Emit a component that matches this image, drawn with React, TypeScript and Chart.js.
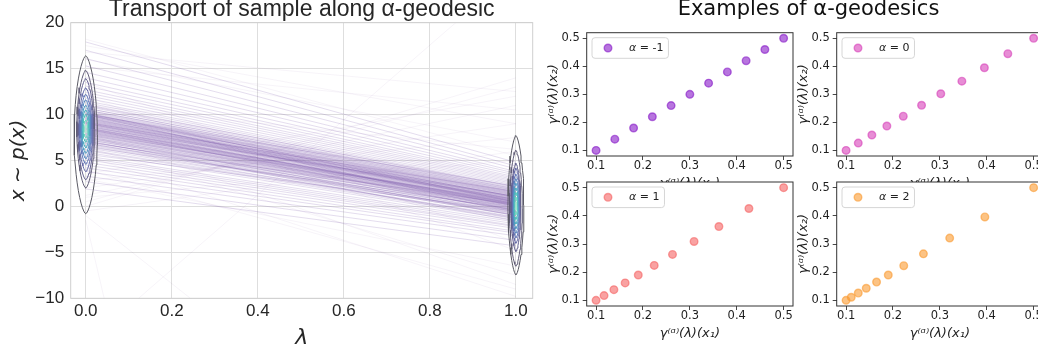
import React, { useEffect, useRef } from "react";
import { Chart, registerables } from "chart.js";

Chart.register(...registerables);

// ---------------- Left panel: transport of sample ----------------
const lambdaTicks = [0, 0.2, 0.4, 0.6, 0.8, 1.0];
const sampleTicks = [-10, -5, 0, 5, 10, 15, 20];

// sample value at lambda = 0 and where it is transported at lambda = 1
const bundleStart = [
  1.9, 2.7, 3.3, 3.8, 4.2, 4.5, 4.8, 5.1, 5.3, 5.5,
  5.7, 5.9, 6.1, 6.2, 6.4, 6.5, 6.7, 6.8, 6.9, 7.1,
  7.2, 7.3, 7.4, 7.5, 7.6, 7.7, 7.8, 7.9, 8.0, 8.1,
  8.2, 8.3, 8.4, 8.5, 8.6, 8.7, 8.8, 8.9, 9.0, 9.1,
  9.2, 9.3, 9.4, 9.5, 9.6, 9.7, 9.8, 10.0, 10.1, 10.2,
  10.4, 10.5, 10.7, 10.9, 11.1, 11.3, 11.5, 11.8, 12.1, 12.4,
  12.7, 13.1, 13.5, 14.0, 14.6, 15.3, 16.1, 17.0, 17.9, 9.95,
  10.0, 10.05,
];
const bundleEnd = [
  -4.3, -3.7, -3.2, -2.9, -2.7, -2.4, -2.2, -2.1, -1.9, -1.7,
  -0.55, -1.5, -1.35, -1.2, -1.15, -0.3, -0.95, -0.8, -0.75, -0.6,
  -1.6, -0.45, -0.4, -1.0, -0.25, -0.15, -0.1, 0.0, 0.5, 0.1,
  0.15, 0.2, 0.25, 0.3, 0.35, 1.1, 0.05, 0.55, 0.6, 0.7,
  0.75, 0.8, 0.9, 0.95, 1.05, 0.45, 1.2, 1.3, 1.4, 1.5,
  1.6, 1.7, 1.8, 1.9, 2.0, 2.15, 2.3, 2.45, 2.6, 2.75,
  2.9, 3.05, 3.2, 3.4, 3.6, 3.8, 4.1, 4.4, 4.8, 1.0,
  -0.5, 2.2,
];
// dense core of the bundle
const coreStart = [
  6.6, 6.9, 7.1, 7.3, 7.5, 7.6, 7.8, 7.9, 8.0, 8.1,
  8.2, 8.3, 8.4, 8.5, 8.55, 8.6, 8.7, 8.8, 8.9, 9.0,
  9.05, 9.1, 9.2, 9.3, 9.4, 9.5, 9.6, 9.7, 9.8, 9.9,
  10.0, 10.1, 10.3, 10.5, 10.7, 11.0, 7.0, 8.45, 9.15, 10.2,
];
const coreEnd = [
  -1.3, -1.0, -0.9, -0.7, -0.5, -0.4, -0.3, -0.2, -0.1, 0.0,
  0.05, 0.1, 0.2, 0.25, 0.3, 0.35, 0.4, 0.45, 0.5, 0.6,
  0.65, 0.7, 0.75, 0.8, 0.9, 1.0, 1.05, 1.1, 1.2, 1.3,
  1.4, 1.5, 1.6, 1.75, 1.9, 2.1, 0.2, -0.6, 1.6, 0.5,
];
const strayStart = [
  18.2, 17.5, 16.8, 16.0, 15.2, 0.5, 1.2, 2.0, 2.8, 3.5,
  -0.5, 0.0, -15.0, -1.5, -1.0, 4.0, 5.5, 6.5, 3.0, 12.0,
  13.5, 8.0, 11.0, 1.0,
];
const strayEnd = [
  5.5, 9.0, 12.5, 7.0, 10.5, 13.0, 11.0, 9.0, 7.5, 12.0,
  6.0, 14.0, 25.7, -200.0, -38.0, -9.0, -9.8, -7.5, -6.5, -4.8,
  -3.9, -8.5, 6.2, 5.0,
];

// KDE contour levels (outer -> inner) at lambda = 0 and lambda = 1
const kdeStartTop = [16.4, 14.8, 13.9, 12.9, 12.2, 11.6, 11.0, 10.5, 10.0, 9.4, 8.8];
const kdeStartBottom = [-0.8, 2.0, 2.9, 3.8, 4.6, 5.2, 5.8, 6.4, 7.0, 7.5, 8.0];
const kdeStartHalfWidth = [0.027, 0.021, 0.0186, 0.0163, 0.014, 0.012, 0.0105, 0.0088, 0.007, 0.0051, 0.003];
const kdeEndTop = [7.7, 6.1, 4.7, 4.15, 3.5, 3.0, 2.5, 2.0, 1.5, 1.0, 0.5];
const kdeEndBottom = [-7.45, -6.5, -4.9, -4.0, -3.4, -2.9, -2.4, -1.9, -1.4, -0.9, -0.4];
const kdeEndHalfWidth = [0.0186, 0.015, 0.0116, 0.0105, 0.0093, 0.0081, 0.007, 0.0058, 0.0046, 0.0033, 0.0019];
const kdeLevelColors = [
  "#5a5a64", "#615d77", "#64628f", "#656aa8", "#6278b8", "#5c8ac1",
  "#549dc3", "#4fb0c1", "#53c4bb", "#74d5c1", "#b0e8d4",
];

// ---------------- Right panels: examples of alpha-geodesics ----------------
const geoTicks = [0.1, 0.2, 0.3, 0.4, 0.5];
const alphaLabels = ["-1", "0", "1", "2"];
// points lie on the diagonal: gamma(x1) == gamma(x2)
const geoAlphaMinus1 = [0.1, 0.14, 0.18, 0.22, 0.26, 0.3, 0.34, 0.38, 0.42, 0.46, 0.5];
const geoAlpha0 = [0.1, 0.126, 0.155, 0.187, 0.222, 0.261, 0.302, 0.347, 0.395, 0.445, 0.5];
const geoAlpha1 = [0.1, 0.117, 0.138, 0.162, 0.19, 0.224, 0.263, 0.309, 0.362, 0.426, 0.5];
const geoAlpha2 = [0.1, 0.111, 0.126, 0.143, 0.165, 0.19, 0.223, 0.265, 0.321, 0.396, 0.5];
const geoSeries = [geoAlphaMinus1, geoAlpha0, geoAlpha1, geoAlpha2];
const geoColors = ["135,25,200", "215,65,185", "245,100,100", "250,155,50"];

const SANS = "'Liberation Sans', Arial, sans-serif";
const DEJAVU = "'DejaVu Sans', sans-serif";

function contourPoints(cx: number, top: number, bottom: number, hw: number) {
  const cy = (top + bottom) / 2;
  const ry = (top - bottom) / 2;
  const pts: { x: number; y: number }[] = [];
  const n = 48;
  for (let k = 0; k <= n; k++) {
    const t = (2 * Math.PI * k) / n;
    const c = Math.cos(t);
    const s = Math.sin(t);
    pts.push({ x: cx + hw * Math.sign(c) * Math.pow(Math.abs(c), 1.3), y: cy + ry * s });
  }
  return pts;
}

function makeTransportConfig(): any {
  const datasets: any[] = [];
  kdeStartTop.forEach((top, i) => {
    datasets.push({
      data: contourPoints(0, top, kdeStartBottom[i], kdeStartHalfWidth[i]),
      borderColor: kdeLevelColors[i], borderWidth: 1, pointRadius: 0, fill: false, order: 0,
    });
  });
  kdeEndTop.forEach((top, i) => {
    datasets.push({
      data: contourPoints(1, top, kdeEndBottom[i], kdeEndHalfWidth[i]),
      borderColor: kdeLevelColors[i], borderWidth: 1, pointRadius: 0, fill: false, order: 0,
    });
  });
  const addLines = (starts: number[], ends: number[], color: string, order: number) => {
    starts.forEach((s, i) => {
      datasets.push({
        data: [{ x: 0, y: s }, { x: 1, y: ends[i] }],
        borderColor: color, borderWidth: 1, pointRadius: 0, fill: false, order,
      });
    });
  };
  addLines(bundleStart, bundleEnd, "rgba(108,66,158,0.18)", 1);
  addLines(coreStart, coreEnd, "rgba(108,66,158,0.2)", 1);
  addLines(strayStart, strayEnd, "rgba(112,72,160,0.06)", 2);

  const border = {
    id: "areaBorder",
    afterDraw(chart: any) {
      const { ctx, chartArea: a } = chart;
      ctx.save();
      ctx.strokeStyle = "#cfcfcf";
      ctx.lineWidth = 1;
      ctx.strokeRect(a.left, a.top, a.right - a.left, a.bottom - a.top);
      ctx.restore();
    },
  };

  return {
    type: "line",
    data: { datasets },
    options: {
      animation: false,
      responsive: false,
      devicePixelRatio: 1,
      events: [],
      layout: { padding: { top: 0, left: 0, right: 7.3, bottom: 0 } },
      plugins: {
        legend: { display: false },
        tooltip: { enabled: false },
        title: {
          display: true,
          fullSize: false,
          text: "Transport of sample along \u03B1-geodesic",
          color: "#262626",
          font: { family: SANS, size: 23, weight: "normal", lineHeight: 0.817 },
          padding: { top: 0, bottom: 3.9 },
        },
      },
      scales: {
        x: {
          type: "linear",
          min: -0.035,
          max: 1.039,
          afterBuildTicks: (s: any) => { s.ticks = lambdaTicks.map((v) => ({ value: v })); },
          afterFit: (s: any) => { s.height = 50.7; },
          grid: { color: "#dedede", lineWidth: 1, drawTicks: false },
          border: { display: false },
          ticks: {
            color: "#262626",
            font: { family: SANS, size: 17, lineHeight: 1.2 },
            padding: 3,
            maxRotation: 0,
            autoSkip: false,
            callback: (v: any) => Number(v).toFixed(1),
          },
          title: {
            display: true,
            text: "\u03BB",
            color: "#262626",
            font: { family: DEJAVU, size: 22, style: "italic", lineHeight: 1 },
            padding: { top: 0, bottom: 0 },
          },
        },
        y: {
          type: "linear",
          min: -10,
          max: 20,
          afterBuildTicks: (s: any) => { s.ticks = sampleTicks.map((v) => ({ value: v })); },
          afterFit: (s: any) => { s.width = 70.7; },
          grid: { color: "#dedede", lineWidth: 1, drawTicks: false },
          border: { display: false },
          ticks: {
            color: "#262626",
            font: { family: SANS, size: 17 },
            padding: 6.5,
            callback: (v: any) => (Number(v) < 0 ? "\u2212" + Math.abs(Number(v)) : String(v)),
          },
          title: {
            display: true,
            text: "x \u223C p(x)",
            color: "#262626",
            font: { family: DEJAVU, size: 20, style: "italic", lineHeight: 1.2 },
            padding: { top: 7, bottom: 0 },
          },
        },
      },
    },
    plugins: [border],
  };
}

function makeGeoConfig(idx: number, o: { padTop: number; padRight: number; suptitleX?: number }): any {
  const values = geoSeries[idx];
  const rgb = geoColors[idx];
  const label = alphaLabels[idx];
  const fillC = `rgba(${rgb},0.6)`;
  const radius = 3.8;

  const deco = {
    id: "geoDeco",
    beforeDraw(chart: any) {
      const { ctx, chartArea: a } = chart;
      ctx.save();
      ctx.fillStyle = "#ffffff";
      ctx.fillRect(a.left, a.top, a.right - a.left, a.bottom - a.top);
      ctx.restore();
    },
    afterDraw(chart: any) {
      const { ctx, chartArea: a } = chart;
      ctx.save();
      ctx.strokeStyle = "#333333";
      ctx.lineWidth = 1;
      ctx.strokeRect(a.left, a.top, a.right - a.left, a.bottom - a.top);

      if (o.suptitleX !== undefined) {
        ctx.fillStyle = "#111111";
        ctx.font = `21px ${DEJAVU}`;
        ctx.textAlign = "center";
        ctx.textBaseline = "alphabetic";
        ctx.fillText("Examples of \u03B1-geodesics", o.suptitleX, 15);
      }

      // legend inside the axes
      ctx.font = `italic 11px ${DEJAVU}`;
      const wA = ctx.measureText("\u03B1").width;
      ctx.font = `11px ${DEJAVU}`;
      const rest = " = " + label;
      const wR = ctx.measureText(rest).width;
      const bx = a.left + 5.3;
      const by = a.top + 5;
      const textX = a.left + 42.3;
      const bw = textX + wA + wR + 5 - bx;
      const bh = 20.6;
      const r = 3;
      ctx.beginPath();
      ctx.moveTo(bx + r, by);
      ctx.lineTo(bx + bw - r, by);
      ctx.arcTo(bx + bw, by, bx + bw, by + r, r);
      ctx.lineTo(bx + bw, by + bh - r);
      ctx.arcTo(bx + bw, by + bh, bx + bw - r, by + bh, r);
      ctx.lineTo(bx + r, by + bh);
      ctx.arcTo(bx, by + bh, bx, by + bh - r, r);
      ctx.lineTo(bx, by + r);
      ctx.arcTo(bx, by, bx + r, by, r);
      ctx.closePath();
      ctx.fillStyle = "rgba(255,255,255,0.8)";
      ctx.fill();
      ctx.strokeStyle = "#d6d6d6";
      ctx.lineWidth = 1;
      ctx.stroke();

      const my = by + bh / 2;
      ctx.beginPath();
      ctx.arc(a.left + 21.3, my, radius, 0, Math.PI * 2);
      ctx.fillStyle = fillC;
      ctx.fill();
      ctx.strokeStyle = fillC;
      ctx.lineWidth = 1.4;
      ctx.stroke();

      ctx.fillStyle = "#222222";
      ctx.textBaseline = "middle";
      ctx.textAlign = "left";
      ctx.font = `italic 11px ${DEJAVU}`;
      ctx.fillText("\u03B1", textX, my);
      ctx.font = `11px ${DEJAVU}`;
      ctx.fillText(rest, textX + wA, my);
      ctx.restore();
    },
  };

  const axis = (which: "x" | "y") => ({
    type: "linear",
    min: 0.08,
    max: 0.52,
    afterBuildTicks: (s: any) => { s.ticks = geoTicks.map((v) => ({ value: v })); },
    afterFit: (s: any) => {
      if (which === "x") s.height = 43;
      else s.width = 46.7;
    },
    grid: {
      display: true, drawOnChartArea: false, drawTicks: true, tickLength: 4,
      tickColor: "#333333", tickWidth: 0.9, color: "#333333",
    },
    border: { display: false },
    ticks: {
      color: "#1e1e1e",
      font: { family: DEJAVU, size: 11.5, lineHeight: 1 },
      padding: which === "x" ? 0 : 3,
      maxRotation: 0,
      autoSkip: false,
      callback: (v: any) => Number(v).toFixed(1),
    },
    title: {
      display: true,
      text: which === "x" ? "\u03B3\u207D\u1D45\u207E(\u03BB)(x\u2081)" : "\u03B3\u207D\u1D45\u207E(\u03BB)(x\u2082)",
      color: "#1e1e1e",
      font: { family: DEJAVU, size: 13, style: "italic", lineHeight: 1.2 },
      padding: which === "x" ? { top: 0, bottom: 7.2 } : { top: 5.7, bottom: 0 },
    },
  });

  return {
    type: "scatter",
    data: {
      datasets: [
        {
          label,
          data: values.map((v) => ({ x: v, y: v })),
          backgroundColor: fillC,
          borderColor: fillC,
          borderWidth: 1.4,
          pointRadius: radius,
          pointHoverRadius: radius,
        },
      ],
    },
    options: {
      animation: false,
      responsive: false,
      devicePixelRatio: 1,
      events: [],
      layout: { padding: { top: o.padTop, right: o.padRight, left: 0, bottom: 0 } },
      plugins: {
        legend: { display: false },
        tooltip: { enabled: false },
        title: { display: false },
      },
      scales: { x: axis("x"), y: axis("y") },
    },
    plugins: [deco],
  };
}

type Box = { left: number; top: number; width: number; height: number };

function ChartBox({ box, make }: { box: Box; make: () => any }) {
  const ref = useRef<HTMLCanvasElement | null>(null);
  useEffect(() => {
    if (!ref.current) return;
    const chart = new Chart(ref.current, make());
    return () => chart.destroy();
  }, []);
  return (
    <canvas
      ref={ref}
      width={box.width}
      height={box.height}
      style={{ position: "absolute", left: box.left, top: box.top, width: box.width, height: box.height }}
    />
  );
}

export default function App() {
  return (
    <div
      style={{
        position: "absolute", left: 0, top: 0, width: 1038, height: 349,
        overflow: "hidden", background: "#ffffff",
      }}
    >
      <ChartBox box={{ left: 0, top: 0, width: 540, height: 349 }} make={makeTransportConfig} />
      <ChartBox
        box={{ left: 540, top: 0, width: 537, height: 199 }}
        make={() => makeGeoConfig(0, { padTop: 32.7, padRight: 284, suptitleX: 268.5 })}
      />
      <ChartBox box={{ left: 790, top: 0, width: 260, height: 199 }} make={() => makeGeoConfig(1, { padTop: 32.7, padRight: 7 })} />
      <ChartBox box={{ left: 540, top: 170, width: 260, height: 179 }} make={() => makeGeoConfig(2, { padTop: 12, padRight: 7 })} />
      <ChartBox box={{ left: 790, top: 170, width: 260, height: 179 }} make={() => makeGeoConfig(3, { padTop: 12, padRight: 7 })} />
    </div>
  );
}
